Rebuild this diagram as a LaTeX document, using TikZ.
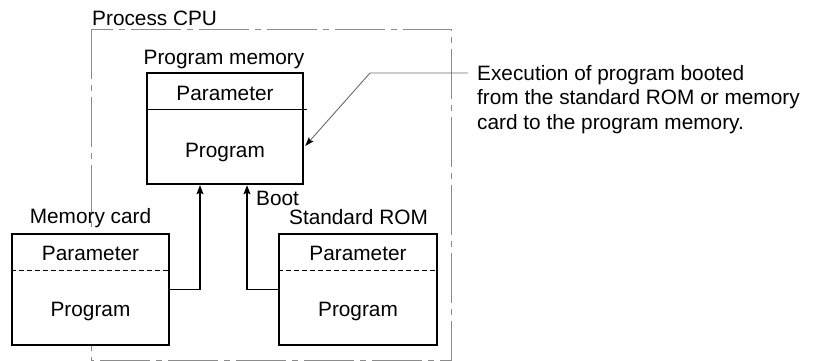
\documentclass[tikz,border=0pt]{standalone}
\usepackage{fontspec}
\setmainfont{Liberation Sans}
\usetikzlibrary{arrows.meta,calc}

\definecolor{cpuline}{gray}{0.55}
\definecolor{leader}{gray}{0.42}

\tikzset{
  lbl/.style={font=\fontsize{20.8}{24.5}\selectfont, inner sep=0pt},
  membox/.style={draw=black, fill=white, line width=1.8pt, inner sep=0pt,
                 minimum width=157pt, minimum height=111pt},
  mainbox/.style={draw=black, line width=2.4pt, inner sep=0pt,
                  minimum width=156pt, minimum height=111pt},
  cpuframe/.style={draw=cpuline, line width=0.9pt,
                   dash pattern=on 50pt off 6pt on 6pt off 6pt},
  sepline/.style={line width=0.8pt, dash pattern=on 5pt off 3pt},
  bootarrow/.style={line width=1.2pt,
                    -{Stealth[length=9pt,width=7pt,inset=1.5pt]}},
  leaderline/.style={draw=leader, line width=0.9pt,
                     -{Stealth[length=9pt,width=6pt,inset=1.5pt,black]}}
}

\begin{document}
\begin{tikzpicture}[x=1pt,y=-1pt]
\useasboundingbox (0,0) rectangle (813,361);

% Process CPU frame
\draw[cpuframe] (91,29) rectangle (451,360);
\node[lbl, anchor=base west] (cpu) at (92,26) {Process CPU};

% Program memory
\node[mainbox] (pm) at (225,128.5) {};
\draw[line width=0.8pt] (pm.west |- 0,109) -- ([xshift=3pt]pm.east |- 0,109);
\node[lbl, anchor=base] (pmt) at (224,64) {Program memory};
\node[lbl, anchor=base] (pmpar) at (225,100) {Parameter};
\node[lbl, anchor=base] (pmprg) at (225,157) {Program};

% Memory card
\node[membox] (mc) at (90.5,289.5) {};
\draw[sepline] (mc.west |- 0,270) -- (mc.east |- 0,270);
\node[lbl, anchor=base] (mct) at (90.5,223) {Memory card};
\node[lbl, anchor=base] (mcpar) at (90.5,260) {Parameter};
\node[lbl, anchor=base] (mcprg) at (90.5,316) {Program};

% Standard ROM
\node[membox, minimum width=158pt] (rom) at (358,289.5) {};
\draw[sepline] (rom.west |- 0,270) -- (rom.east |- 0,270);
\node[lbl, anchor=base] (romt) at (358.5,224) {Standard ROM};
\node[lbl, anchor=base] (rompar) at (358,260) {Parameter};
\node[lbl, anchor=base] (romprg) at (358,316) {Program};

% Boot transfers into program memory
\draw[bootarrow] (mc.east) -| ([xshift=-25pt]pm.south);
\draw[bootarrow] (rom.west) -| ([xshift=22pt]pm.south);
\node[lbl, anchor=base west] (boot) at (256,205) {Boot};

% Explanation with leader line
\node[lbl, anchor=north west, align=left] (note) at (477,64.8)
  {Execution of program booted\\from the standard ROM or memory\\card to the program memory.};
\coordinate (lead) at (468,73);
\draw[leaderline] (lead) -- (370,73) -- ([xshift=1pt,yshift=-17.5pt]pm.east);
\end{tikzpicture}
\end{document}
